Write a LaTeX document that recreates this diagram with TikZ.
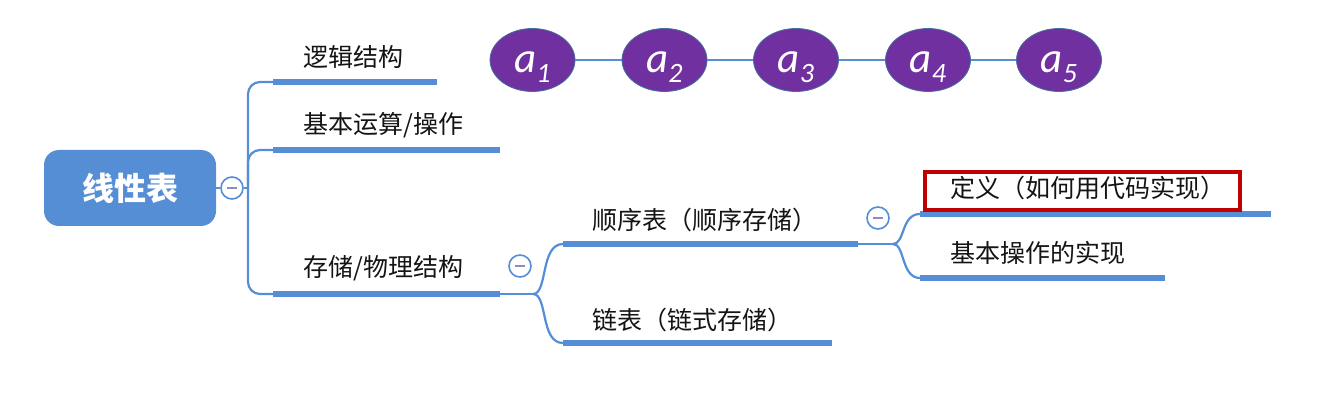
\documentclass[tikz,border=0pt]{standalone}
\usepackage{fontspec}
\newfontfamily\cjk{Noto Sans CJK SC}
\newfontfamily\calfont{Carlito}
\usetikzlibrary{shapes.geometric}
\definecolor{lblue}{RGB}{85,142,213}
\definecolor{purp}{RGB}{112,48,160}
\definecolor{eborder}{RGB}{65,113,156}
\definecolor{redc}{RGB}{192,0,0}
\definecolor{mcol}{RGB}{140,140,190}
\definecolor{txt}{RGB}{20,20,20}
\newcommand{\elemtext}[1]{\raisebox{-13pt}[0pt][0pt]{a\raisebox{-10pt}{\fontsize{28}{28}\selectfont #1}}}
\begin{document}
\begin{tikzpicture}[x=1pt,y=-1pt,
  link/.style={draw=lblue, line width=2.2pt},
  bar/.style={draw=lblue, line width=6pt},
  lbl/.style={anchor=west, inner sep=0pt, font=\cjk\fontsize{25}{27}\selectfont, text=txt},
  elem/.style={ellipse, fill=purp, draw=eborder, line width=0.8pt, minimum width=85pt, minimum height=63pt, inner sep=0pt, text=white, font=\calfont\itshape\fontsize{43}{43}\selectfont},
  toggle/.style={circle, draw=lblue, fill=white, line width=1.6pt, minimum size=22pt, inner sep=0pt,
    path picture={\draw[mcol, line width=1.6pt] ([xshift=-5pt]path picture bounding box.center) -- ([xshift=5pt]path picture bounding box.center);}},
  rootbox/.style={fill=lblue, rounded corners=15pt, minimum width=172pt, minimum height=76pt, text=white, font=\cjk\bfseries\fontsize{32}{34}\selectfont}
]
\useasboundingbox (0,0) rectangle (1337,403);

% root
\node[rootbox] (root) at (130,188) {线性表};
\node[toggle] (t0) at (232,188) {};
\draw[link] (root.east) -- (t0.west);

% first level bars
\coordinate (b1s) at (273,82);  \coordinate (b1e) at (437,82);
\coordinate (b2s) at (273,150); \coordinate (b2e) at (500,150);
\coordinate (b3s) at (273,294); \coordinate (b3e) at (500,294);
\coordinate (j0) at (248,188);
\draw[link] (t0.east) -- (j0);
\draw[link, rounded corners=12pt] (j0) |- (b1s);
\draw[link, rounded corners=12pt] (j0) |- (b2s);
\draw[link, rounded corners=12pt] (j0) |- (b3s);
\draw[bar] (b1s) -- (b1e);
\draw[bar] (b2s) -- (b2e);
\draw[bar] (b3s) -- (b3e);
\node[lbl] (n1) at (303,57) {逻辑结构};
\node[lbl] (n2) at (303,125) {基本运算/操作};
\node[lbl] (n3) at (303,268) {存储/物理结构};

% second level
\coordinate (j1) at (533,294);
\coordinate (c1s) at (563,244); \coordinate (c1e) at (858,244);
\coordinate (c2s) at (563,343); \coordinate (c2e) at (832,343);
\draw[link] (b3e) -- (j1);
\draw[link] (j1) .. controls (548,294) and (540,244) .. (c1s);
\draw[link] (j1) .. controls (548,294) and (540,343) .. (c2s);
\draw[bar] (c1s) -- (c1e);
\draw[bar] (c2s) -- (c2e);
\node[toggle] (t1) at (520,266) {};
\node[lbl] (m1) at (592,220) {顺序表（顺序存储）};
\node[lbl] (m2) at (592,320) {链表（链式存储）};

% third level
\coordinate (j2) at (893,244);
\coordinate (d1s) at (920,214); \coordinate (d1e) at (1271,214);
\coordinate (d2s) at (920,278); \coordinate (d2e) at (1165,278);
\draw[link] (c1e) -- (j2);
\draw[link] (j2) .. controls (905,244) and (901,214) .. (d1s);
\draw[link] (j2) .. controls (905,244) and (901,278) .. (d2s);
\draw[bar] (d1s) -- (d1e);
\draw[bar] (d2s) -- (d2e);
\node[toggle] (t2) at (878,218) {};
\node[draw=redc, line width=3.6pt, minimum width=315pt, minimum height=38pt, inner sep=0pt] (redbox) at (1082.5,191) {};
\node[lbl] (k1) at (950,188) {定义（如何用代码实现）};
\node[lbl] (k2) at (950,253) {基本操作的实现};

% elements
\node[elem] (e1) at (532.5,60) {\elemtext{1}};
\node[elem] (e2) at (664.5,60) {\elemtext{2}};
\node[elem] (e3) at (796,60) {\elemtext{3}};
\node[elem] (e4) at (928,60) {\elemtext{4}};
\node[elem] (e5) at (1059,60) {\elemtext{5}};
\draw[link, line width=2.5pt] (e1) -- (e2);
\draw[link, line width=2.5pt] (e2) -- (e3);
\draw[link, line width=2.5pt] (e3) -- (e4);
\draw[link, line width=2.5pt] (e4) -- (e5);
\end{tikzpicture}
\end{document}
